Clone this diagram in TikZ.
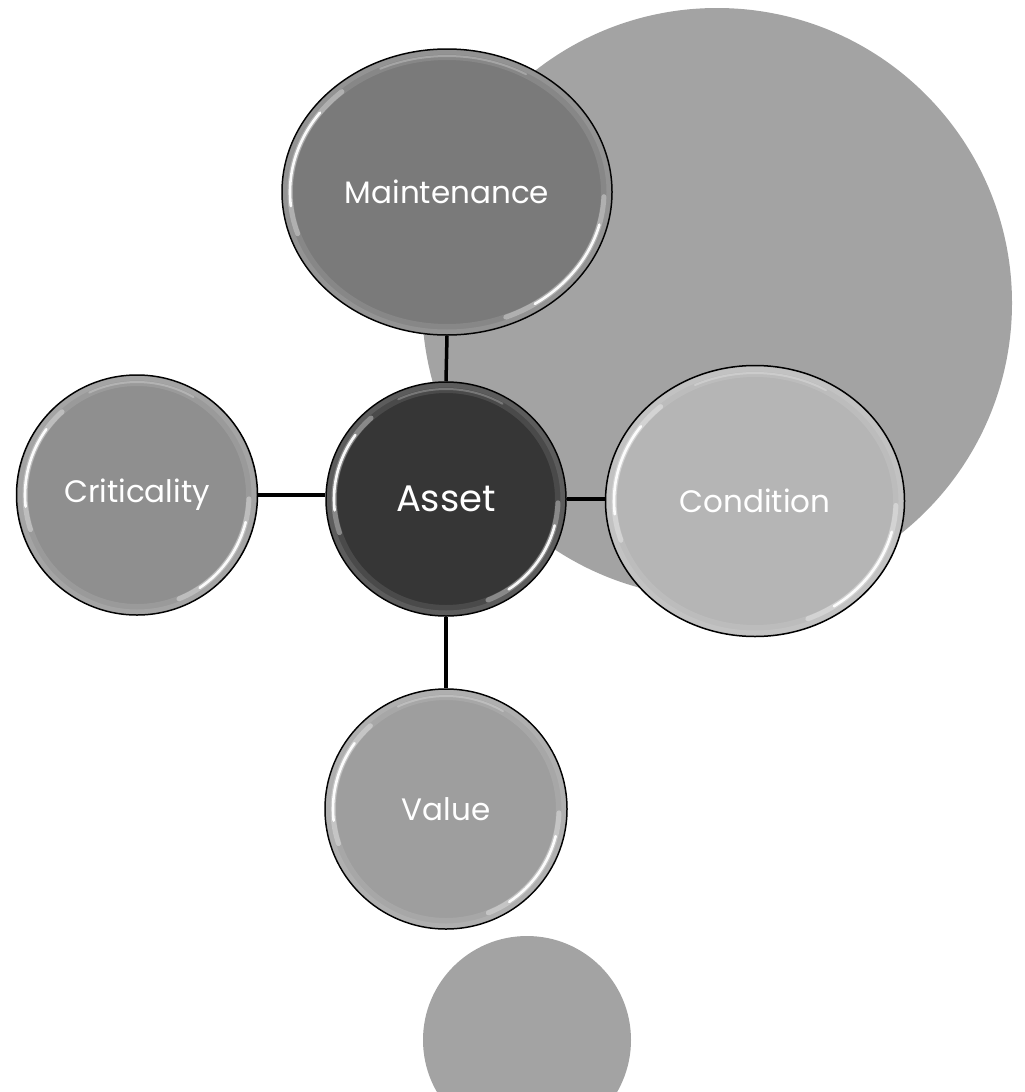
\documentclass[tikz,border=0pt]{standalone}
\usepackage{fontspec}
\setmainfont{Poppins}
\usetikzlibrary{shapes.geometric}
\definecolor{bgcircle}{HTML}{A3A3A3}
\definecolor{cmaint}{HTML}{7A7A7A}
\definecolor{casset}{HTML}{363636}
\definecolor{ccrit}{HTML}{8F8F8F}
\definecolor{ccond}{HTML}{B5B5B5}
\definecolor{cvalue}{HTML}{9E9E9E}
\tikzset{
  bubble/.style={ellipse, draw=black, line width=1.5pt, inner sep=0pt, text=white, font=\fontsize{31}{34}\selectfont},
  conn/.style={draw=black, line width=3.5pt},
  backdisc/.style={fill=bgcircle, draw=none},
}
\newcommand\glossy[3]{%
  \begin{scope}[shift={(#1.center)}]
    \draw[white, opacity=0.10, line width=10pt] (0,0) ellipse [x radius=#2-6, y radius=#3-6];
    \draw[white, opacity=0.10, line width=5pt] (0,0) ellipse [x radius=#2-3, y radius=#3-3];
    \draw[white, opacity=0.35, line width=5pt, line cap=round] (0,0) ++(228:{#2-8} and {#3-8}) arc[start angle=228, end angle=162, x radius=#2-8, y radius=#3-8];
    \draw[white, opacity=0.95, line width=2.6pt, line cap=round] (0,0) ++(216:{#2-8} and {#3-8}) arc[start angle=216, end angle=174, x radius=#2-8, y radius=#3-8];
    \draw[white, opacity=0.35, line width=5pt, line cap=round] (0,0) ++(2:{#2-8} and {#3-8}) arc[start angle=2, end angle=68, x radius=#2-8, y radius=#3-8];
    \draw[white, opacity=0.95, line width=2.6pt, line cap=round] (0,0) ++(14:{#2-8} and {#3-8}) arc[start angle=14, end angle=56, x radius=#2-8, y radius=#3-8];
    \draw[white, opacity=0.25, line width=2pt, line cap=round] (0,0) ++(245:{#2-7} and {#3-7}) arc[start angle=245, end angle=300, x radius=#2-7, y radius=#3-7];
  \end{scope}}
\begin{document}
\begin{tikzpicture}[x=1pt,y=-1pt]
\useasboundingbox (0,0) rectangle (1025,1092);
\clip (0,0) rectangle (1025,1092);
% background discs
\fill[backdisc] (717,303) circle [radius=295];
\fill[backdisc] (527,1040) circle [radius=104];
% nodes
\node[bubble, fill=cmaint, minimum width=330pt, minimum height=286pt] (maint) at (447,192) {Maintenance};
\node[bubble, fill=casset, minimum width=240pt, minimum height=234pt, font=\fontsize{37}{40}\selectfont] (asset) at (446,499) {Asset};
\node[bubble, fill=ccrit, minimum width=241pt, minimum height=240pt] (crit) at (137,495) {Criticality};
\node[bubble, fill=ccond, minimum width=299pt, minimum height=271pt] (cond) at (755,501) {Condition};
\node[bubble, fill=cvalue, minimum width=242pt, minimum height=240pt] (value) at (446,809) {Value};
% gloss
\glossy{maint}{165}{143}
\glossy{asset}{120}{117}
\glossy{crit}{120}{120}
\glossy{cond}{149}{135}
\glossy{value}{121}{120}
% connectors
\draw[conn] (maint.south) -- (asset.north);
\draw[conn] (crit.east) -- (crit.east -| asset.west);
\draw[conn] (asset.east) -- (asset.east -| cond.west);
\draw[conn] (asset.south) -- (value.north);
\end{tikzpicture}
\end{document}
